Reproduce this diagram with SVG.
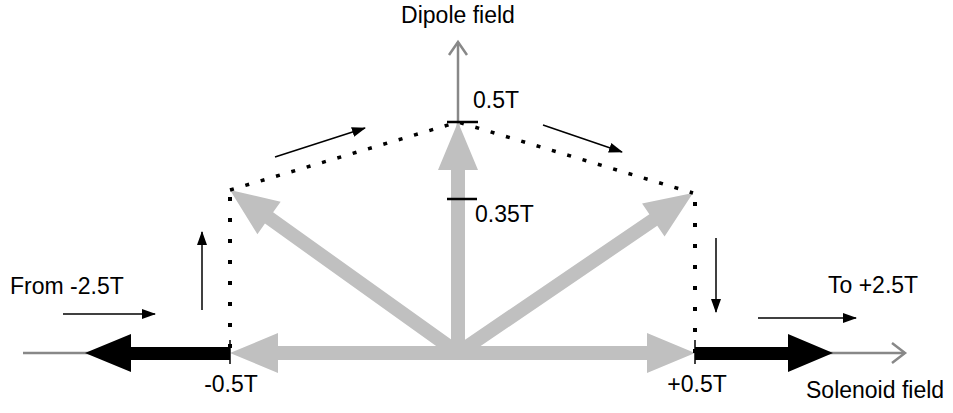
<svg xmlns="http://www.w3.org/2000/svg" width="953" height="413" viewBox="0 0 953 413">
<style>
text{font-family:"Liberation Sans",Arial,sans-serif;font-size:23px;fill:#000}
.big{fill:#c0c0c0}
.blk{fill:#000}
.axis{stroke:#888;stroke-width:2.5;fill:none}
.dot{stroke:#000;stroke-width:3.5;stroke-dasharray:4 12;fill:none}
.vdot{stroke:#000;stroke-width:4;stroke-dasharray:4 17;fill:none}
.thin{stroke:#000;stroke-width:1.5;fill:none;marker-end:url(#ah)}
.tick{stroke:#000;stroke-width:2.5}
</style>
<defs>
<marker id="ah" viewBox="0 0 14 10" refX="13" refY="5" markerWidth="14" markerHeight="10" markerUnits="userSpaceOnUse" orient="auto">
<path d="M0,0 L14,5 L0,10 Z" fill="#000"/>
</marker>
</defs>
<g id="axes">
<line class="axis" x1="23" y1="353" x2="100" y2="353"/>
<line class="axis" x1="820" y1="353" x2="905" y2="353"/>
<polyline class="axis" points="892,343 905,353 892,363"/>
<line class="axis" x1="458" y1="42" x2="458" y2="130"/>
<polyline class="axis" points="449,55 458,42 467,55"/>
</g>
<g id="gray-arrows">
<polygon class="big" points="230,353 278,333 278,346 647,346 647,333 695,353 647,373 647,360 278,360 278,373"/>
<polygon class="big" points="458,122 478,170 465,170 465,353 451,353 451,170 438,170"/>
<polygon class="big" points="230,190 280.67,201.64 273.11,212.22 462.07,347.31 453.93,358.69 264.97,223.6 257.41,234.18"/>
<polygon class="big" points="693,193 664.58,236.54 657.26,225.8 461.94,358.79 454.06,347.21 649.38,214.22 642.06,203.48"/>
</g>
<g id="black-arrows">
<polygon class="blk" points="85,353 131,334 131,347 230,347 230,360 131,360 131,372"/>
<polygon class="blk" points="833,353 788,334 788,347 695,347 695,360 788,360 788,372"/>
</g>
<g id="connectors">
<polyline class="dot" points="230,190 458,122 693,193"/>
<line class="vdot" x1="230" y1="197" x2="230" y2="353"/>
<line class="vdot" x1="695" y1="202" x2="695" y2="353"/>
<line class="thin" x1="63" y1="314" x2="155" y2="314"/>
<line class="thin" x1="202" y1="310" x2="202" y2="232"/>
<line class="thin" x1="275" y1="157" x2="365" y2="128"/>
<line class="thin" x1="543" y1="125" x2="622" y2="152"/>
<line class="thin" x1="716" y1="238" x2="716" y2="312"/>
<line class="thin" x1="758" y1="318" x2="856" y2="318"/>
</g>
<g id="ticks">
<line class="tick" x1="447" y1="122" x2="478" y2="122"/>
<line class="tick" x1="447" y1="199" x2="477" y2="199"/>
<line class="tick" x1="230" y1="340" x2="230" y2="364" style="stroke-width:1.5"/>
<line class="tick" x1="695" y1="340" x2="695" y2="364" style="stroke-width:1.5"/>
</g>
<g id="labels">
<text x="458" y="23" text-anchor="middle">Dipole field</text>
<text x="473" y="108">0.5T</text>
<text x="475" y="222">0.35T</text>
<text x="10" y="294">From -2.5T</text>
<text x="828" y="293">To +2.5T</text>
<text x="231" y="392" text-anchor="middle">-0.5T</text>
<text x="697" y="392" text-anchor="middle">+0.5T</text>
<text x="806" y="398">Solenoid field</text>
</g>
</svg>
